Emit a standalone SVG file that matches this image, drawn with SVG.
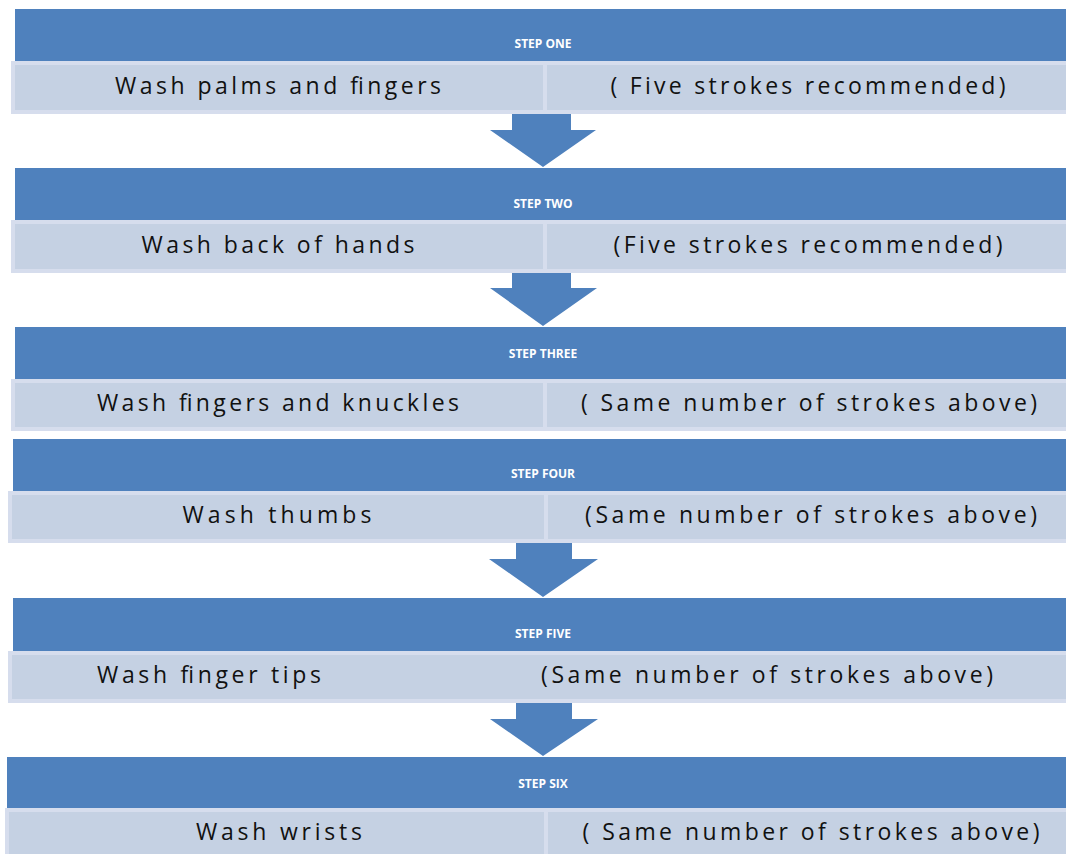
<svg xmlns="http://www.w3.org/2000/svg" width="1066" height="854" viewBox="0 0 1066 854">
<style>
.hdr{fill:#4f81bd}
.band{fill:#c5d1e3;stroke:#d6dded;stroke-width:4}
.div{stroke:#d6dded;stroke-width:4}
.lbl{font-family:"Open Sans","DejaVu Sans",sans-serif;font-size:12px;font-weight:bold;fill:#ffffff;text-anchor:middle}
.t{font-family:"Open Sans","DejaVu Sans",sans-serif;font-size:23px;fill:#111111;text-anchor:middle}
.arr{fill:#4f81bd}
</style>
<rect width="1066" height="854" fill="#ffffff"/>
<g id="connectors">
<path class="arr" d="M512,110 H571 V130 H596 L543,167 L490,130 H512 Z"/>
<path class="arr" d="M512,270 H571 V288 H597 L543,326 L490,288 H512 Z"/>
<path class="arr" d="M516,541 H572 V559 H598 L543,597 L489,559 H516 Z"/>
<path class="arr" d="M516,700 H572 V719 H598 L543,756 L490,719 H516 Z"/>
</g>
<g id="step1">
<rect class="hdr" x="15" y="9" width="1051" height="53"/>
<text class="lbl" x="543" y="48">STEP ONE</text>
<rect class="band" x="13" y="63" width="1055" height="49"/>
<line class="div" x1="545" y1="63" x2="545" y2="112"/>
<text class="t" x="278" y="94" textLength="326" lengthAdjust="spacing">Wash palms and fingers</text>
<text class="t" x="808" y="94" textLength="395" lengthAdjust="spacing">( Five strokes recommended)</text>
</g>
<g id="step2">
<rect class="hdr" x="15" y="168" width="1051" height="53"/>
<text class="lbl" x="543" y="208">STEP TWO</text>
<rect class="band" x="13" y="222" width="1055" height="49"/>
<line class="div" x1="545" y1="222" x2="545" y2="271"/>
<text class="t" x="278" y="253" textLength="273" lengthAdjust="spacing">Wash back of hands</text>
<text class="t" x="808" y="253" textLength="389" lengthAdjust="spacing">(Five strokes recommended)</text>
</g>
<g id="step3">
<rect class="hdr" x="15" y="327" width="1051" height="53"/>
<text class="lbl" x="543" y="358">STEP THREE</text>
<rect class="band" x="13" y="381" width="1055" height="48"/>
<line class="div" x1="545" y1="381" x2="545" y2="429"/>
<text class="t" x="278" y="411" textLength="362" lengthAdjust="spacing">Wash fingers and knuckles</text>
<text class="t" x="809" y="411" textLength="456" lengthAdjust="spacing">( Same number of strokes above)</text>
</g>
<g id="step4">
<rect class="hdr" x="13" y="439" width="1053" height="53"/>
<text class="lbl" x="543" y="478">STEP FOUR</text>
<rect class="band" x="10" y="493" width="1058" height="48"/>
<line class="div" x1="546" y1="493" x2="546" y2="541"/>
<text class="t" x="277" y="523" textLength="189" lengthAdjust="spacing">Wash thumbs</text>
<text class="t" x="811" y="523" textLength="452" lengthAdjust="spacing">(Same number of strokes above)</text>
</g>
<g id="step5">
<rect class="hdr" x="13" y="598" width="1053" height="53"/>
<text class="lbl" x="543" y="638">STEP FIVE</text>
<rect class="band" x="10" y="653" width="1058" height="48"/>
<text class="t" x="209" y="683" textLength="224" lengthAdjust="spacing">Wash finger tips</text>
<text class="t" x="767" y="683" textLength="452" lengthAdjust="spacing">(Same number of strokes above)</text>
</g>
<g id="step6">
<rect class="hdr" x="7" y="757" width="1059" height="52"/>
<text class="lbl" x="543" y="788">STEP SIX</text>
<rect class="band" x="7" y="810" width="1061" height="48"/>
<line class="div" x1="546" y1="810" x2="546" y2="858"/>
<text class="t" x="279" y="840" textLength="166" lengthAdjust="spacing">Wash wrists</text>
<text class="t" x="811" y="840" textLength="457" lengthAdjust="spacing">( Same number of strokes above)</text>
</g>
</svg>
